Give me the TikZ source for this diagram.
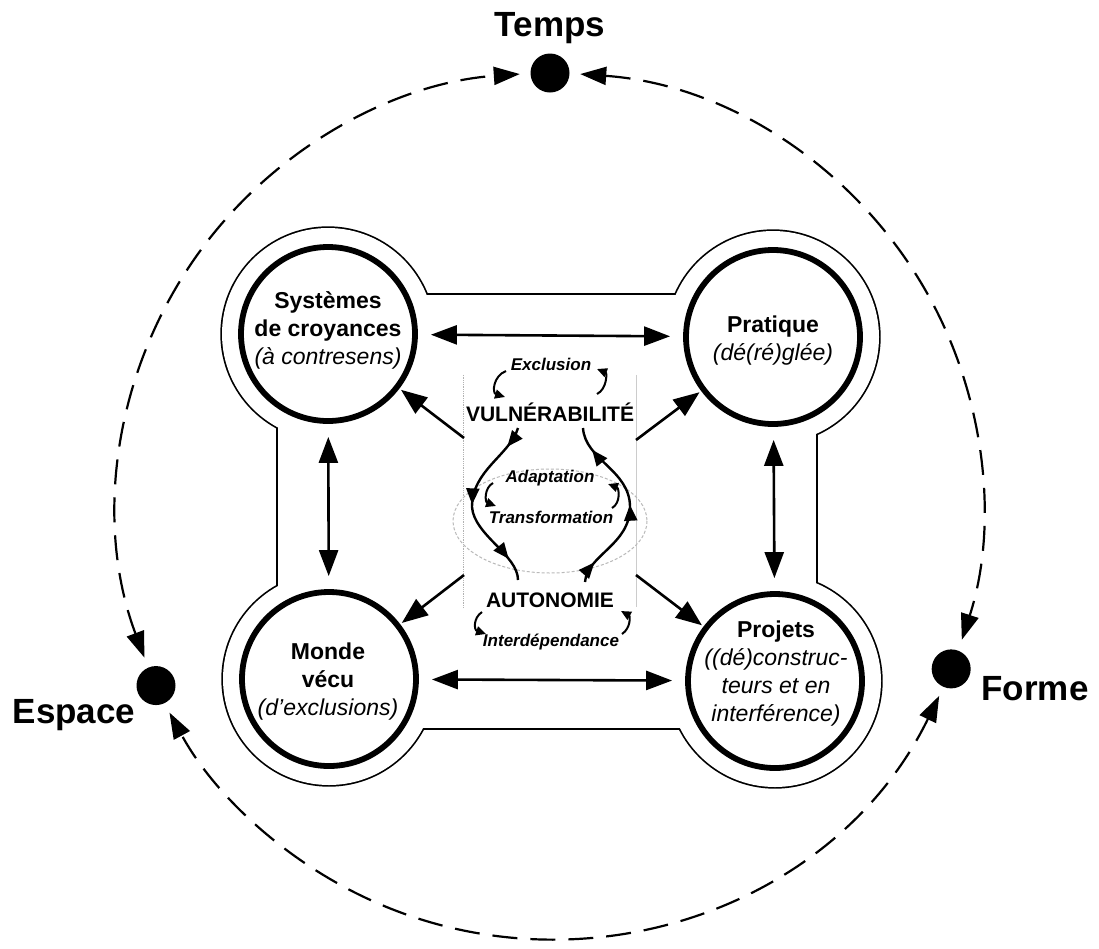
\documentclass[tikz,border=0pt]{standalone}
\usepackage{fontspec}
\setmainfont{Liberation Sans}
\usetikzlibrary{arrows.meta,decorations.markings,calc}
\begin{document}
\begin{tikzpicture}[x=1pt,y=-1pt,
  bigcirc/.style={circle,draw,line width=5.8pt,fill=white,minimum size=174pt,inner sep=0pt},
  ctext/.style={align=center,font=\fontsize{23}{28}\selectfont\bfseries,inner sep=0pt},
  conn/.style={line width=2.6pt,{Triangle[length=26pt,width=19pt]}-{Triangle[length=26pt,width=19pt]},shorten <=13pt,shorten >=13pt},
  diag/.style={line width=2.6pt,-{Triangle[length=26pt,width=20pt]},shorten >=2pt},
  bigword/.style={font=\fontsize{21}{24}\selectfont\bfseries,inner sep=0pt},
  smallword/.style={font=\fontsize{17}{20}\selectfont\bfseries\itshape,inner sep=0pt},
  curl/.style={line width=2pt,-{Triangle[length=10pt,width=9pt]}},
  loopar/.style={line width=2.4pt,postaction={decorate},
    decoration={markings,
      mark=at position 0.12 with {\arrow{Triangle[length=16pt,width=13pt]}},
      mark=at position 0.5 with {\arrow{Triangle[length=16pt,width=13pt]}},
      mark=at position 0.87 with {\arrow{Triangle[length=16pt,width=13pt]}}}},
  dot/.style={circle,fill=black,minimum size=39pt,inner sep=0pt},
  outerword/.style={font=\fontsize{35}{40}\selectfont\bfseries,inner sep=0pt,anchor=base},
  dasharc/.style={line width=2.2pt,dash pattern=on 25pt off 13pt,{Triangle[length=26pt,width=18pt]}-{Triangle[length=26pt,width=18pt]}}
]
\useasboundingbox (0,0) rectangle (1099,948);

% centres
\coordinate (c1) at (328,334);
\coordinate (c2) at (773,337);
\coordinate (c3) at (329,679);
\coordinate (c4) at (775,681);
\coordinate (O) at (550,506);

% union frame
\foreach \c in {c1,c2,c3,c4} \draw[line width=3.4pt] (\c) circle[radius=106];
\draw[line width=3.4pt] (278,295) rectangle (816,728);
\foreach \c in {c1,c2,c3,c4} \fill[white] (\c) circle[radius=106];
\fill[white] (278,295) rectangle (816,728);

% circles
\node[bigcirc] (sys) at (c1) {};
\node[bigcirc] (prat) at (c2) {};
\node[bigcirc] (monde) at (c3) {};
\node[bigcirc] (proj) at (c4) {};

\node[ctext] (tsys) at (328,330) {Systèmes\\de croyances\\\mdseries\itshape (à contresens)};
\node[ctext] (tprat) at (773,341) {Pratique\\\mdseries\itshape (dé(ré)glée)};
\node[ctext] (tmonde) at (328,682) {Monde\\vécu\\\mdseries\itshape (d'exclusions)};
\node[ctext] (tproj) at (776,674) {Projets\\\mdseries\itshape ((dé)construc-\\\mdseries\itshape teurs et en\\\mdseries\itshape interférence)};

% arrows between circles
\draw[conn] (sys) -- (prat);
\draw[conn] (monde) -- (proj);
\draw[conn] (sys) -- (monde);
\draw[conn] (prat) -- (proj);

% central box
\node[minimum width=172pt,minimum height=232pt,inner sep=0pt] (box) at (550,491) {};
\draw[gray!60,densely dotted,line width=0.8pt] (box.north west) -- (box.south west);
\draw[gray!40,line width=1pt] (box.north east) -- (box.south east);
\draw[gray!55,densely dashed,line width=1pt] (550,521) ellipse[x radius=97,y radius=52];

\coordinate (d1) at (464,438);
\coordinate (d2) at (636,440);
\coordinate (d3) at (464,575);
\coordinate (d4) at (636,575);
\draw[diag] (d1) -- (sys);
\draw[diag] (d2) -- (prat);
\draw[diag] (d3) -- (monde);
\draw[diag] (d4) -- (proj);

% central words
\node[smallword] (excl) at (551,364) {Exclusion};
\node[bigword] (vuln) at (550,412) {VULNÉRABILITÉ};
\node[smallword] (adapt) at (550,478) {Adaptation};
\node[smallword] (transf) at (551,517) {Transformation};
\node[bigword] (auto) at (550,600) {AUTONOMIE};
\node[smallword] (interd) at (551,642) {Interdépendance};

% big loop
\coordinate (l0) at (518,428);
\coordinate (l1) at (472,507);
\coordinate (l2) at (518,580);
\coordinate (r0) at (585,582);
\coordinate (r1) at (630,507);
\coordinate (r2) at (583,428);
\draw[loopar] (l0) .. controls (510,455) and (472,470) .. (l1) .. controls (474,535) and (518,555) .. (l2);
\draw[loopar] (r0) .. controls (587,555) and (630,545) .. (r1) .. controls (630,470) and (585,460) .. (r2);

% small curls
\coordinate (e1a) at (506,371); \coordinate (e1b) at (505,397);
\coordinate (e2a) at (597,394); \coordinate (e2b) at (597,369);
\coordinate (a1a) at (493,483); \coordinate (a1b) at (496,506);
\coordinate (a2a) at (612,508); \coordinate (a2b) at (608,484);
\coordinate (i1a) at (482,612); \coordinate (i1b) at (486,634);
\coordinate (i2a) at (622,634); \coordinate (i2b) at (621,611);
\draw[curl] (e1a) .. controls (493,376) and (492,393) .. (e1b);
\draw[curl] (e2a) .. controls (607,389) and (607,373) .. (e2b);
\draw[curl] (a1a) .. controls (484,488) and (485,502) .. (a1b);
\draw[curl] (a2a) .. controls (621,503) and (619,488) .. (a2b);
\draw[curl] (i1a) .. controls (473,618) and (474,630) .. (i1b);
\draw[curl] (i2a) .. controls (631,628) and (630,616) .. (i2b);

% outer dashed circle
\node[dot] (temps) at ([shift={(-90:433)}]O) {};
\node[dot] (forme) at ([shift={(22.1:433)}]O) {};
\node[dot] (espace) at ([shift={(155.5:433)}]O) {};
\draw[dasharc] ([shift={(-86:433)}]O) arc[start angle=-86,end angle=18,radius=433];
\draw[dasharc] ([shift={(26:433)}]O) arc[start angle=26,end angle=151.5,radius=433];
\draw[dasharc] ([shift={(159.5:433)}]O) arc[start angle=159.5,end angle=266,radius=433];

\node[outerword] (ltemps) at (550,36) {Temps};
\node[outerword] (lespace) at (74,723) {Espace};
\node[outerword] (lforme) at (1035,700) {Forme};
\end{tikzpicture}
\end{document}
